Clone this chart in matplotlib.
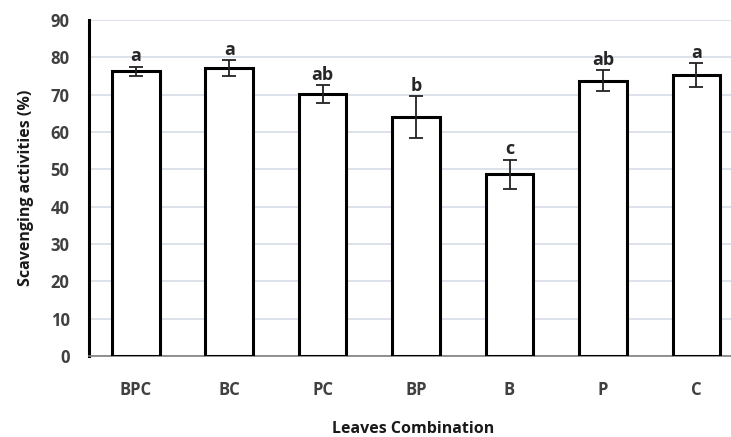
import numpy as np
import matplotlib.pyplot as plt

groups = ["BPC", "BC", "PC", "BP", "B", "P", "C"]
activity = [76.3, 77.1, 70.2, 64.0, 48.7, 73.7, 75.3]
sd = [1.2, 2.1, 2.4, 5.6, 3.9, 2.8, 3.1]
letters = ["a", "a", "ab", "b", "c", "ab", "a"]

plt.rcParams['font.family'] = ['Open Sans', 'DejaVu Sans']

fig = plt.figure(figsize=(7.31, 4.37), dpi=100)
ax = fig.add_axes([0.1218, 0.1854, 0.8782, 0.7686])

x = np.arange(len(groups))
ax.bar(x, activity, width=0.51, color='white', edgecolor='black',
       linewidth=2.2, zorder=3)
ax.errorbar(x, activity, yerr=sd, fmt='none', ecolor='#222222',
            elinewidth=1.3, capsize=5, capthick=1.3, zorder=4)

# significance letters just above each error bar
for xi, v, e, lab in zip(x, activity, sd, letters):
    ax.annotate(lab, (xi, v + e), xytext=(0, 1), textcoords='offset points',
                ha='center', va='bottom', fontsize=13, fontweight='bold',
                color='#262626')

ax.set_xlim(-0.5, 6.37)
ax.set_ylim(0, 90)
ax.set_yticks(np.arange(0, 91, 10))
ax.set_xticks(x)
ax.set_xticklabels(groups)
ax.grid(axis='y', color='#d5dce6', linewidth=1.2, zorder=0)

for s in ['top', 'right']:
    ax.spines[s].set_visible(False)
ax.spines['left'].set_linewidth(2.2)
ax.spines['left'].set_color('black')
ax.spines['bottom'].set_color('#7f7f7f')
ax.spines['bottom'].set_linewidth(1.2)

ax.tick_params(axis='both', length=0, labelsize=12, colors='#404040')
ax.tick_params(axis='y', pad=14)
ax.tick_params(axis='x', pad=18)
for t in ax.get_xticklabels() + ax.get_yticklabels():
    t.set_fontweight('bold')

ax.set_ylabel('Scavenging activities (%)', fontsize=11.5, fontweight='bold',
              color='#1a1a1a', labelpad=12)
fig.text(0.565, 0.018, 'Leaves Combination', fontsize=11.5, fontweight='bold',
         color='#1a1a1a', ha='center', va='center')

fig.savefig('out.png', dpi=100)
